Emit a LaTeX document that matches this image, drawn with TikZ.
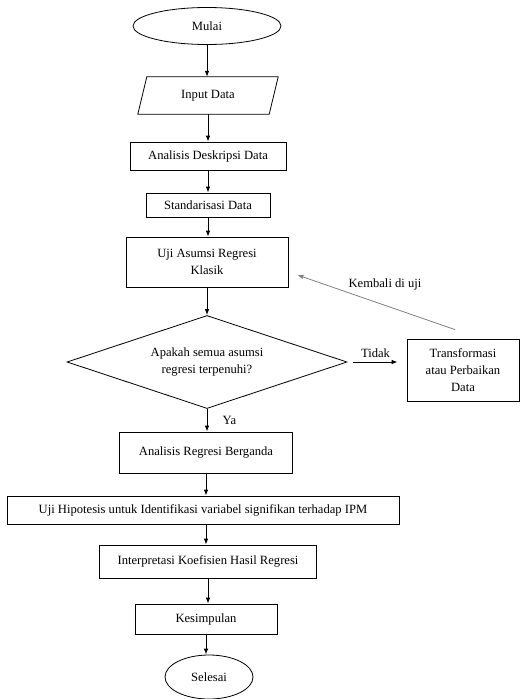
\documentclass[tikz,border=0pt]{standalone}
\usepackage{fontspec}
\setmainfont{Liberation Serif}
\usetikzlibrary{arrows.meta}
\usetikzlibrary{shapes.geometric}
\usetikzlibrary{positioning}

\begin{document}
\begin{tikzpicture}[x=1pt,y=1pt,yscale=-1,xscale=1,
    font=\fontsize{12.6}{17}\selectfont,
    box/.style={draw,line width=0.8pt,rectangle,inner sep=0pt,align=center},
    terminal/.style={draw,line width=0.8pt,ellipse,inner sep=0pt},
    arr/.style={line width=0.8pt,-{Latex[length=6pt,width=4.5pt]}}]
    \useasboundingbox (0,0) rectangle (520,699);

    %Shape: Ellipse [id:mulai]
    \node [terminal,minimum width=148,minimum height=37] (mulai) at (207,26) {Mulai};
    %Shape: Parallelogram [id:input]
    \node [rectangle,inner sep=0pt,minimum width=131,minimum height=37] (input) at (208,95.5) {Input Data};
    \draw [line width=0.8pt] ([xshift=-4.5]input.south west) -- ([xshift=4.5]input.north west)
        -- ([xshift=4.5]input.north east) -- ([xshift=-4.5]input.south east) -- cycle;
    %Shape: Rectangle [id:deskripsi]
    \node [box,minimum width=156,minimum height=28] (deskripsi) at (208,156) {Analisis Deskripsi Data};
    %Shape: Rectangle [id:standar]
    \node [box,minimum width=124,minimum height=24] (standar) at (208,205) {Standarisasi Data};
    %Shape: Rectangle [id:asumsi]
    \node [box,minimum width=162,minimum height=50] (asumsi) at (207,262) {Uji Asumsi Regresi\\Klasik};
    %Shape: Diamond [id:cek]
    \node [draw,line width=0.8pt,diamond,aspect=3,inner sep=0pt,minimum width=280,minimum height=93,align=center] (cek) at (207,362)
        {Apakah semua asumsi\\regresi terpenuhi?};
    %Shape: Rectangle [id:transform]
    \node [box,minimum width=112,minimum height=62] (transform) at (463,370) {Transformasi\\atau Perbaikan\\Data};
    %Shape: Rectangle [id:regresi]
    \node [box,minimum width=173,minimum height=41] (regresi) at (206,452.5) {Analisis Regresi Berganda};
    %Shape: Rectangle [id:hipotesis]
    \node [box,minimum width=392,minimum height=28] (hipotesis) at (203,510) {Uji Hipotesis untuk Identifikasi variabel signifikan terhadap IPM};
    %Shape: Rectangle [id:interpretasi]
    \node [box,minimum width=217,minimum height=33] (interpretasi) at (208,561.5) {Interpretasi Koefisien Hasil Regresi};
    %Shape: Rectangle [id:simpulan]
    \node [box,minimum width=142,minimum height=30] (simpulan) at (206,619) {Kesimpulan};
    %Shape: Ellipse [id:selesai]
    \node [terminal,minimum width=88,minimum height=44] (selesai) at (209,677) {Selesai};

    %Straight Lines
    \draw [arr] (mulai.south) -- (mulai.south |- input.north);
    \draw [arr] (input.south) -- (input.south |- deskripsi.north);
    \draw [arr] (deskripsi.south) -- (deskripsi.south |- standar.north);
    \draw [arr] (standar.south) -- (standar.south |- asumsi.north);
    \draw [arr] (asumsi.south) -- (asumsi.south |- cek.north);
    \draw [arr] (cek.south) -- (cek.south |- regresi.north) node [midway,right=12pt] {Ya};
    \draw [arr] (regresi.south) -- (regresi.south |- hipotesis.north);
    \draw [arr] (hipotesis.south -| regresi.south) -- (regresi.south |- interpretasi.north);
    \draw [arr] (interpretasi.south) -- (interpretasi.south |- simpulan.north);
    \draw [arr] (simpulan.south) -- (simpulan.south |- selesai.north);
    %Straight Lines [id:tidak]
    \coordinate (tidak0) at ([xshift=6]cek.east);
    \coordinate (tidak1) at ([xshift=-9]cek.east -| transform.west);
    \draw [arr] (tidak0) -- (tidak1) node [midway,above=1pt] {Tidak};
    %Straight Lines [id:kembali]
    \coordinate (balik0) at ([shift={(-8,-9)}]transform.north);
    \coordinate (balik1) at ([shift={(9,13)}]asumsi.east);
    \draw [arr,draw=gray] (balik0) -- (balik1);

    % Text Node
    \node (kembali) at (385,284) {Kembali di uji};

\end{tikzpicture}
\end{document}
